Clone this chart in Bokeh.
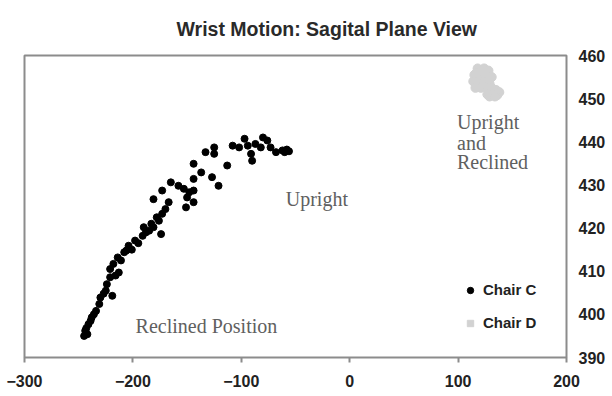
from bokeh.plotting import figure
from bokeh.models import Range1d, FixedTicker, Legend, LegendItem, ColumnDataSource
from bokeh.core.properties import value
from bokeh.embed import file_html
from bokeh.resources import INLINE

# Chair C (black) sample points: horizontal, vertical position
chair_c_x = [-62, -58, -56, -60, -97, -80, -76, -87, -82, -94, -91, -90, -108, -102, -73, -68,
             -125, -125, -133, -144, -113, -137, -144, -127, -121, -165, -158, -173, -181,
             -153, -148, -144, -150, -144, -151, -167, -170, -173, -176, -181, -174, -185,
             -190, -191, -198, -204, -208, -214, -218, -221, -213, -221, -224, -225, -219,
             -230, -231, -234, -238, -241, -244, -242, -245, -178, -183, -195, -201, -211,
             -216, -227, -236, -239, -243, -188, -206]
chair_c_y = [438.0, 438.2, 437.8, 437.6, 440.7, 441.0, 440.3, 439.5, 438.7, 439.1, 437.2, 435.6,
             439.1, 438.7, 438.7, 437.6, 438.7, 437.2, 437.6, 434.9, 434.5, 432.9, 431.4,
             431.8, 429.8, 430.6, 429.8, 428.7, 426.7, 429.1, 428.3, 428.7, 427.1, 426.0,
             424.8, 426.0, 424.4, 423.3, 421.7, 420.2, 418.6, 419.4, 420.2, 418.2, 417.1,
             415.9, 414.4, 413.2, 411.7, 410.5, 409.7, 408.6, 407.0, 405.5, 404.3, 403.9,
             402.4, 400.8, 399.3, 397.7, 396.2, 395.4, 395.0, 422.5, 421.0, 416.5, 415.0,
             412.5, 409.0, 404.8, 400.0, 398.5, 396.8, 419.0, 414.8]

# Chair D (gray) sample points
chair_d_x = [118, 124, 128, 115, 120, 126, 131, 114, 119, 124, 129, 116, 121, 127,
             131, 135, 138, 127, 132, 136, 129, 134, 122, 117]
chair_d_y = [457.0, 457.0, 456.5, 455.5, 455.5, 455.5, 455.0, 454.0, 454.0, 454.0, 453.5,
             452.5, 452.5, 452.5, 452.5, 452.0, 451.5, 451.0, 451.0, 450.8, 450.5, 450.5,
             456.5, 456.0]

x_ticks = [-300, -200, -100, 0, 100, 200]
y_ticks = [390, 400, 410, 420, 430, 440, 450, 460]

note_text = ["Upright", "Reclined Position", "Upright", "and", "Reclined"]
note_x = [-59, -197.5, 99, 99, 99]
note_y = [426.8, 397.4, 444.6, 439.8, 435.2]

p = figure(width=612, height=396, output_backend="svg", toolbar_location=None,
           x_range=Range1d(-300, 200), y_range=Range1d(390, 460),
           y_axis_location="right",
           min_border_left=24, min_border_right=46, min_border_top=55, min_border_bottom=39)

p.title.text = "Wrist Motion: Sagital Plane View"
p.title.align = "left"
p.title.offset = 152
p.title.text_font = "Liberation Sans"
p.title.text_font_size = "19.5px"
p.title.text_font_style = "bold"
p.title.text_color = "#2a2a2a"
p.title.standoff = 28
p.title.vertical_align = "top"

p.grid.visible = False
p.outline_line_color = "#8c8c8c"
p.outline_line_width = 2
p.background_fill_color = "white"
p.border_fill_color = "white"

xa = p.xaxis[0]
xa.ticker = FixedTicker(ticks=x_ticks)
xa.axis_line_color = None
xa.major_tick_line_color = "#8c8c8c"
xa.major_tick_line_width = 2
xa.major_tick_out = 5
xa.major_tick_in = 0
xa.minor_tick_line_color = None
xa.major_label_text_font = "Liberation Sans"
xa.major_label_text_font_size = "16px"
xa.major_label_text_font_style = "bold"
xa.major_label_text_color = "#222222"
xa.major_label_standoff = 12

ya = p.yaxis[0]
ya.ticker = FixedTicker(ticks=y_ticks)
ya.axis_line_color = None
ya.major_tick_line_color = None
ya.major_tick_out = 0
ya.major_tick_in = 0
ya.minor_tick_line_color = None
ya.major_label_text_font = "Liberation Sans"
ya.major_label_text_font_size = "16px"
ya.major_label_text_font_style = "bold"
ya.major_label_text_color = "#222222"
ya.major_label_standoff = 12

p.scatter(chair_d_x, chair_d_y, size=9, marker="circle", color="#d2d2d2")
rc = p.scatter(chair_c_x, chair_c_y, size=7, marker="circle", color="black")
rd_legend = p.scatter([float("nan")], [float("nan")], size=7, marker="square", color="#d2d2d2")

src = ColumnDataSource(dict(x=note_x, y=note_y, t=note_text))
p.text(x="x", y="y", text="t", source=src, text_font=value("Liberation Serif"),
       text_font_size="20px", text_color="#606060", text_baseline="middle", text_align="left")

legend = Legend(items=[LegendItem(label="Chair C", renderers=[rc]),
                       LegendItem(label="Chair D", renderers=[rd_legend])],
                location=(438, 26), orientation="vertical")
legend.border_line_color = None
legend.background_fill_alpha = 0
legend.padding = 0
legend.margin = 0
legend.glyph_width = 16
legend.glyph_height = 16
legend.label_height = 16
legend.spacing = 16
legend.label_standoff = 5
legend.label_text_font = "Liberation Sans"
legend.label_text_font_size = "15px"
legend.label_text_font_style = "bold"
legend.label_text_color = "#222222"
p.add_layout(legend)

open("out.html", "w").write(file_html(p, INLINE))
